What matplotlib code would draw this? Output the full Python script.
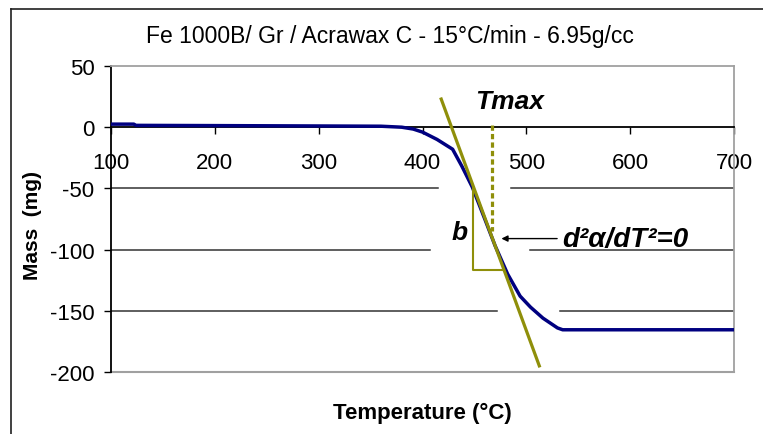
import matplotlib
matplotlib.use("Agg")
import matplotlib.pyplot as plt
from matplotlib.lines import Line2D

plt.rcParams['font.family'] = ['Liberation Sans', 'DejaVu Sans']
plt.rcParams['axes.unicode_minus'] = False

# mass loss curve
temp = [100, 122, 124, 200, 300, 360, 380, 391, 400, 414, 429, 438, 448,
        460, 470, 482, 494, 504, 516, 530, 535, 600, 700]
mass = [2.5, 2.5, 1.5, 1.3, 1.0, 0.8, 0.0, -1.5, -4, -10, -18, -32, -49,
        -75, -97, -120, -138, -147, -156, -164, -165.5, -165.5, -165.5]

# tangent at the inflection point and the slope triangle
tangent_t = [418, 512.5]
tangent_m = [23, -195]
tri_t = [449, 449, 477]
tri_m = [-50, -117, -117]
tmax = 467
tmax_m = [2, -85]

xticks = [100, 200, 300, 400, 500, 600, 700]
yticks = [50, 0, -50, -100, -150, -200]

olive = '#8f8f0a'
navy = '#000080'

fig = plt.figure(figsize=(7.63, 4.35), dpi=100)
ax = fig.add_axes([111 / 763, 1 - 373 / 435, 623 / 763, 306 / 435])
ax.set_xlim(100, 700)
ax.set_ylim(-200, 50)

# gridlines, broken where the annotations sit
grid = [(-50, 415, 485), (-100, 407, 504), (-150, 472, 532)]
for y, g0, g1 in grid:
    ax.plot([100, g0], [y, y], color='#333333', lw=1.1, zorder=1)
    ax.plot([g1, 700], [y, y], color='#333333', lw=1.1, zorder=1)
ax.axhline(-200, color='#a0a0a0', lw=1.5, zorder=1, clip_on=False)

ax.plot(temp, mass, color=navy, lw=2.5, zorder=3)
ax.plot(tangent_t, tangent_m, color=olive, lw=2.3, zorder=4)
ax.plot(tri_t, tri_m, color=olive, lw=1.5, zorder=4)
ax.plot([tmax, tmax], tmax_m, color=olive, lw=2.3,
        linestyle=(0, (1.65, 1.0)), zorder=4)

ax.text(484, 21, 'Tmax', fontsize=19, fontweight='bold', style='italic',
        ha='center', va='center')
ax.text(436, -86, 'b', fontsize=19, fontweight='bold', style='italic',
        ha='center', va='center')
ax.annotate('d²α/dT²=0', xy=(476, -91), xytext=(535, -91),
            fontsize=20, fontweight='bold', style='italic', va='center',
            arrowprops=dict(arrowstyle='-|>', color='black', lw=1,
                            mutation_scale=9, shrinkA=2, shrinkB=0))

# axes look
ax.spines['bottom'].set_position(('data', 0))
ax.spines['bottom'].set_color('black')
ax.spines['left'].set_color('black')
ax.spines['top'].set_color('#a0a0a0')
ax.spines['right'].set_color('#a0a0a0')
for s in ax.spines.values():
    s.set_linewidth(1.3)
ax.set_xticks(xticks)
ax.set_yticks(yticks)
ax.set_yticklabels([str(v) for v in yticks])
ax.tick_params(axis='x', direction='out', length=5, width=1, pad=13,
               labelsize=16)
ax.tick_params(axis='y', direction='out', length=5, width=1, pad=7,
               labelsize=16)

fig.text(390 / 763, 1 - 37 / 435,
         'Fe 1000B/ Gr / Acrawax C - 15°C/min - 6.95g/cc',
         fontsize=16.5, ha='center', va='center')
fig.text(422 / 763, 1 - 413 / 435, 'Temperature (°C)', fontsize=16,
         fontweight='bold', ha='center', va='center')
fig.text(32 / 763, 1 - 225 / 435, 'Mass  (mg)', fontsize=15,
         fontweight='bold', ha='center', va='center', rotation=90)

# outer chart frame (left and top edges show)
fig.add_artist(Line2D([11 / 763, 11 / 763], [0, 1 - 10 / 435],
                      transform=fig.transFigure, color='#202020', lw=1.2))
fig.add_artist(Line2D([11 / 763, 1], [1 - 10 / 435, 1 - 10 / 435],
                      transform=fig.transFigure, color='#202020', lw=1.2))

fig.savefig('out.png', dpi=100)
